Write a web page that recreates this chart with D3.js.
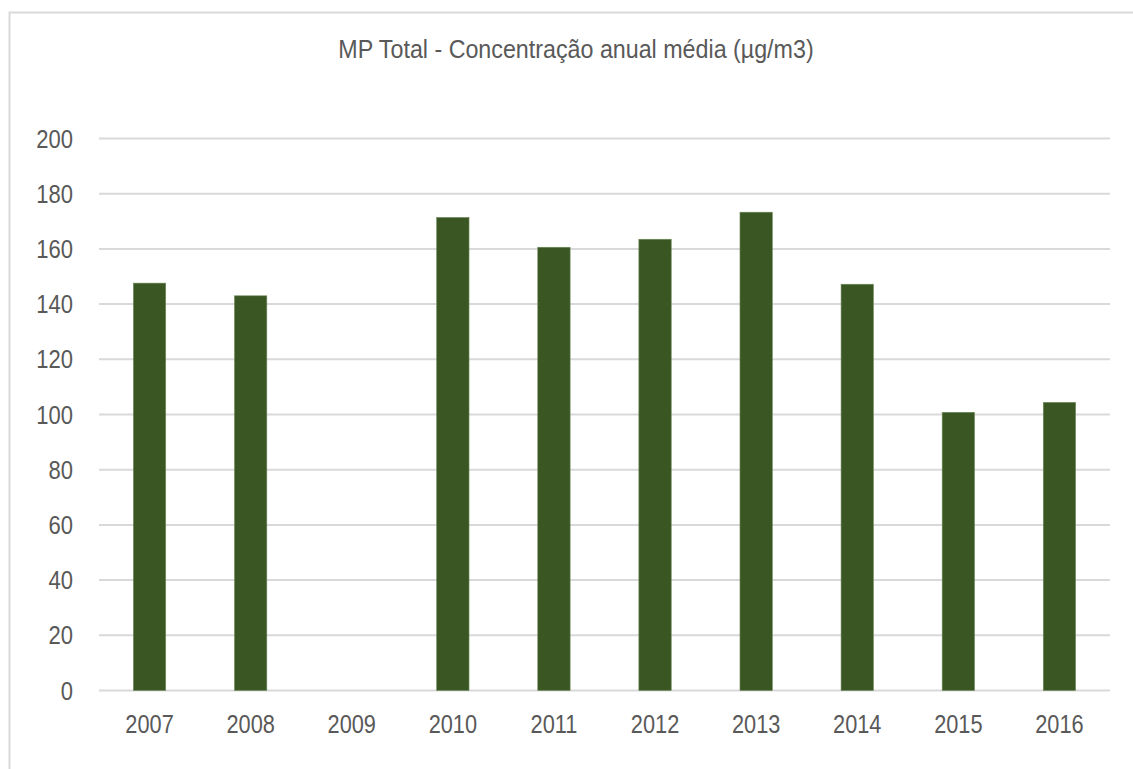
<html>
    <head>
        <meta charset="utf-8">
        <style>
            body { margin: 0; background-color: white; }
            text { font-family: "Liberation Sans", Arial, sans-serif; fill: #595959; }
        </style>
    </head>
    <body>
        <svg id="chart" width="1133" height="769"></svg>
        <script src="https://d3js.org/d3.v7.min.js"></script>
        <script>
            const TITLE = "MP Total - Concentração anual média (µg/m3)";
            const YEARS = ["2007", "2008", "2009", "2010", "2011", "2012", "2013", "2014", "2015", "2016"];
            const VALUES = [147.6, 143.0, null, 171.4, 160.6, 163.5, 173.3, 147.2, 100.8, 104.4];
            const Y_TICKS = [0, 20, 40, 60, 80, 100, 120, 140, 160, 180, 200];

            const svg = d3.select("#chart");

            // outer chart border, runs off the right and bottom of the picture
            svg.append("rect")
                .attr("x", 9.5).attr("y", 12.5)
                .attr("width", 1300).attr("height", 900)
                .attr("fill", "white").attr("stroke", "#d9d9d9").attr("stroke-width", 2);

            const x = d3.scaleBand().domain(YEARS).range([99, 1110]).paddingInner(0.68).paddingOuter(0.34);
            const y = d3.scaleLinear().domain([0, 200]).range([690.5, 138.5]);

            // the original font is a condensed one, squeeze it horizontally
            const at = (px, py, sx) => "translate(" + px + "," + py + ") scale(" + sx + ",1)";

            svg.append("text")
                .attr("transform", at(576, 58, 0.895))
                .attr("text-anchor", "middle")
                .style("font-size", "26px")
                .text(TITLE);

            // gridlines
            svg.append("g")
                .selectAll("line")
                .data(Y_TICKS)
                .join("line")
                .attr("x1", 99).attr("x2", 1110)
                .attr("y1", d => y(d)).attr("y2", d => y(d))
                .attr("stroke", "#d9d9d9").attr("stroke-width", 2);

            // y axis labels
            svg.append("g")
                .selectAll("text")
                .data(Y_TICKS)
                .join("text")
                .attr("transform", d => at(73, y(d) + 9, 0.88))
                .attr("text-anchor", "end")
                .style("font-size", "25px")
                .text(d => d);

            // bars
            svg.append("g")
                .selectAll("rect")
                .data(YEARS.map((k, i) => ({ year: k, v: VALUES[i] })).filter(d => d.v !== null))
                .join("rect")
                .attr("x", d => x(d.year))
                .attr("width", x.bandwidth())
                .attr("y", d => y(d.v))
                .attr("height", d => y(0) - y(d.v))
                .attr("fill", "#3a5723")
                .attr("stroke", "#6f8a5c").attr("stroke-width", 0.6);

            // x axis labels
            svg.append("g")
                .selectAll("text")
                .data(YEARS)
                .join("text")
                .attr("transform", d => at(x(d) + x.bandwidth() / 2, 733, 0.87))
                .attr("text-anchor", "middle")
                .style("font-size", "25px")
                .text(d => d);
        </script>
    </body>
</html>
